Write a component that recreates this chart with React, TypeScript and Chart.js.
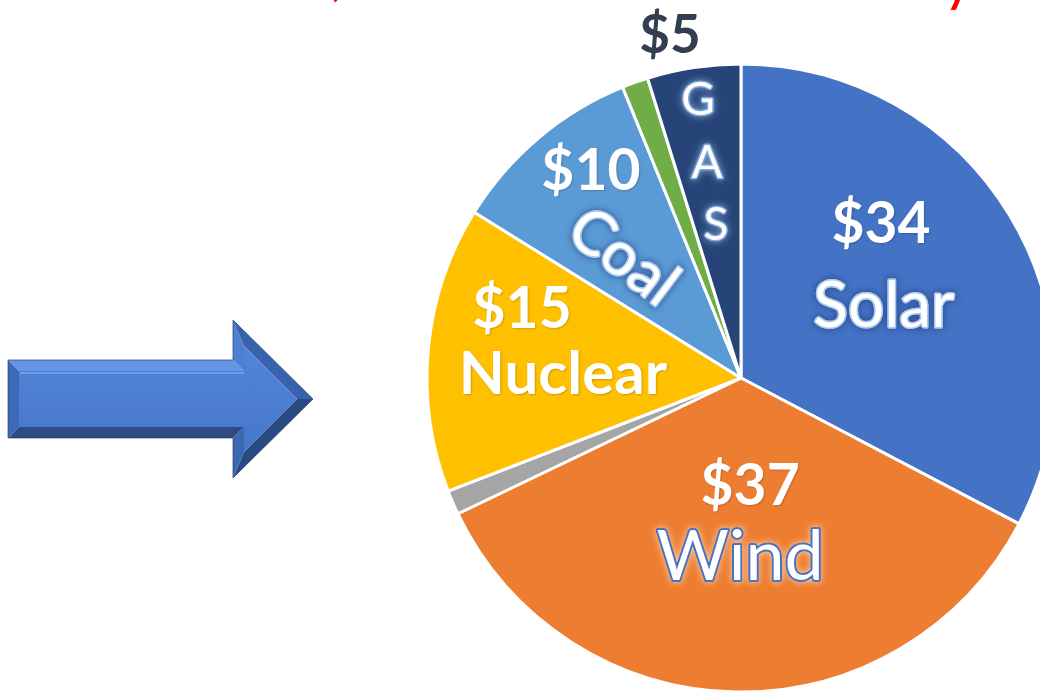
import React, { useEffect, useRef } from "react";
import { Chart, registerables } from "chart.js";

Chart.register(...registerables);

// ---- data ----
const categories = ["Solar", "Wind", "Other", "Nuclear", "Coal", "Hydro", "GAS"];
const values = [34, 36.6, 1.3, 15.3, 10.4, 1.4, 5.0];
const sliceColors = ["#4472C4", "#ED7D31", "#A5A5A5", "#FFC000", "#5B9BD5", "#70AD47", "#264478"];
const showName = [true, true, false, true, true, false, true];
const showValue = [true, true, false, true, true, false, true];

// ---- label layout (offsets relative to pie centre, in units of radius) ----
type Place = { dx: number; dy: number };
const valuePlace: (Place | null)[] = [
  { dx: 0.446, dy: -0.43 },
  { dx: 0.029, dy: 0.404 },
  null,
  { dx: -0.697, dy: -0.159 },
  { dx: -0.478, dy: -0.599 },
  null,
  { dx: -0.226, dy: -1.035 },
];
const namePlace: (Place | null)[] = [
  { dx: 0.455, dy: -0.162 },
  { dx: -0.003, dy: 0.643 },
  null,
  { dx: -0.567, dy: 0.05 },
  { dx: -0.375, dy: -0.385 },
  null,
  null,
];
const gasLetterPlace: Place[] = [
  { dx: -0.137, dy: -0.838 },
  { dx: -0.108, dy: -0.637 },
  { dx: -0.08, dy: -0.439 },
];

const FONT = "Lato, 'Open Sans', sans-serif";

function glowText(
  ctx: CanvasRenderingContext2D,
  text: string,
  x: number,
  y: number,
  stroke: string,
  glow: string,
  lw: number
) {
  ctx.save();
  ctx.shadowColor = glow;
  ctx.shadowBlur = 7;
  ctx.lineJoin = "round";
  ctx.strokeStyle = stroke;
  ctx.lineWidth = lw;
  ctx.strokeText(text, x, y);
  ctx.restore();
  ctx.save();
  ctx.strokeStyle = stroke;
  ctx.lineWidth = lw;
  ctx.lineJoin = "round";
  ctx.strokeText(text, x, y);
  ctx.fillStyle = "#FFFFFF";
  ctx.fillText(text, x, y);
  ctx.restore();
}

const labelPlugin = {
  id: "pieLabels",
  afterDatasetsDraw(chart: any) {
    const ctx: CanvasRenderingContext2D = chart.ctx;
    const meta = chart.getDatasetMeta(0);
    const first = meta.data[0];
    if (!first) return;
    const cx = first.x;
    const cy = first.y;
    const R = first.outerRadius;
    ctx.save();
    ctx.textAlign = "center";
    ctx.textBaseline = "alphabetic";

    values.forEach((v, i) => {
      const vp = valuePlace[i];
      if (showValue[i] && vp) {
        const x = cx + vp.dx * R;
        const y = cy + vp.dy * R;
        const txt = "$" + Math.round(v);
        if (i === 6) {
          ctx.font = `bold 53px ${FONT}`;
          ctx.fillStyle = "#333F50";
          ctx.fillText(txt, x, y);
        } else {
          ctx.font = `bold 57px ${FONT}`;
          ctx.save();
          ctx.shadowColor = "rgba(0,0,0,0.18)";
          ctx.shadowBlur = 2;
          ctx.shadowOffsetX = 1;
          ctx.shadowOffsetY = 1;
          ctx.fillStyle = "#FFFFFF";
          ctx.fillText(txt, x, y);
          ctx.restore();
        }
      }
      const np = namePlace[i];
      if (showName[i] && np) {
        const x = cx + np.dx * R;
        const y = cy + np.dy * R;
        const name = categories[i];
        if (i === 0) {
          ctx.font = `64px ${FONT}`;
          glowText(ctx, name, x, y, "#A9C8EC", "#1F3B78", 3);
        } else if (i === 1) {
          ctx.font = `70px ${FONT}`;
          glowText(ctx, name, x, y, "#4472C4", "rgba(255,235,215,1)", 3.5);
        } else if (i === 3) {
          ctx.font = `bold 60px ${FONT}`;
          ctx.save();
          ctx.shadowColor = "rgba(0,0,0,0.2)";
          ctx.shadowBlur = 2;
          ctx.shadowOffsetX = 1;
          ctx.shadowOffsetY = 1;
          ctx.fillStyle = "#FFFFFF";
          ctx.fillText(name, x, y);
          ctx.restore();
        } else if (i === 4) {
          ctx.save();
          ctx.translate(x, y);
          ctx.rotate((37 * Math.PI) / 180);
          ctx.font = `61px ${FONT}`;
          ctx.textBaseline = "middle";
          glowText(ctx, name, 0, 0, "#A9C8EC", "#1F3B78", 3);
          ctx.restore();
        }
      }
    });

    // vertical G A S
    const gas = categories[6];
    ctx.font = `46px ${FONT}`;
    gas.split("").forEach((ch, k) => {
      const p = gasLetterPlace[k];
      if (!p) return;
      glowText(ctx, ch, cx + p.dx * R, cy + p.dy * R, "#7EA6DC", "#9DC3E6", 2.5);
    });

    // clipped red title fragments at the very top
    ctx.font = `bold 44px ${FONT}`;
    ctx.fillStyle = "#FF0000";
    ctx.fillText(",", 337, -4);
    ctx.fillText("y", 957, 3);
    ctx.restore();
  },
};

function Arrow() {
  const P = {
    p1: [8, 360], p2: [233, 360], p3: [233, 320], p4: [313, 399],
    p5: [233, 478], p6: [233, 438], p7: [8, 438],
  };
  const I = {
    i1: [19, 371], i2: [244, 371], i3: [244, 346], i4: [297, 399],
    i5: [244, 452], i6: [244, 427], i7: [19, 427],
  };
  const pts = (a: number[][]) => a.map((q) => q.join(",")).join(" ");
  return (
    <svg width={1040} height={691} style={{ position: "absolute", left: 0, top: 0 }}>
      <defs>
        <linearGradient id="bodyG" x1="0" y1="0" x2="0" y2="1">
          <stop offset="0" stopColor="#5285DA" />
          <stop offset="1" stopColor="#4676C8" />
        </linearGradient>
      </defs>
      <polygon points={pts([P.p1, P.p2, I.i2, I.i1])} fill="#6596E6" />
      <polygon points={pts([P.p2, P.p3, I.i3, I.i2])} fill="#4E80D2" />
      <polygon points={pts([P.p3, P.p4, I.i4, I.i3])} fill="#3862AC" />
      <polygon points={pts([P.p4, P.p5, I.i5, I.i4])} fill="#2A4A82" />
      <polygon points={pts([P.p5, P.p6, I.i6, I.i5])} fill="#3C67B2" />
      <polygon points={pts([P.p6, P.p7, I.i7, I.i6])} fill="#2D4C84" />
      <polygon points={pts([P.p7, P.p1, I.i1, I.i7])} fill="#3F69B4" />
      <polygon
        points={pts([I.i1, I.i2, I.i3, I.i4, I.i5, I.i6, I.i7])}
        fill="url(#bodyG)"
      />
      <line x1={20} y1={373} x2={244} y2={373} stroke="#7AA6EE" strokeWidth={1.5} />
      <polygon
        points={pts([P.p1, P.p2, P.p3, P.p4, P.p5, P.p6, P.p7])}
        fill="none"
        stroke="#2A4370"
        strokeWidth={1}
        strokeOpacity={0.7}
      />
    </svg>
  );
}

export default function App() {
  const ref = useRef<HTMLCanvasElement | null>(null);
  useEffect(() => {
    if (!ref.current) return;
    const chart = new Chart(ref.current, {
      type: "pie",
      data: {
        labels: categories,
        datasets: [
          {
            data: values,
            backgroundColor: sliceColors,
            borderColor: "#FFFFFF",
            borderWidth: 3,
            radius: 314,
          } as any,
        ],
      },
      options: {
        responsive: false,
        animation: false,
        events: [],
        layout: { padding: { left: 442, top: 65, right: 0, bottom: 0 } },
        plugins: {
          legend: { display: false },
          tooltip: { enabled: false },
          title: { display: false },
        },
      },
      plugins: [labelPlugin],
    });
    return () => chart.destroy();
  }, []);
  return (
    <div
      style={{
        position: "absolute",
        left: 0,
        top: 0,
        width: 1040,
        height: 691,
        overflow: "hidden",
        background: "#FFFFFF",
      }}
    >
      <Arrow />
      <canvas
        ref={ref}
        width={1040}
        height={691}
        style={{ position: "absolute", left: 0, top: 0, width: 1040, height: 691 }}
      />
    </div>
  );
}
